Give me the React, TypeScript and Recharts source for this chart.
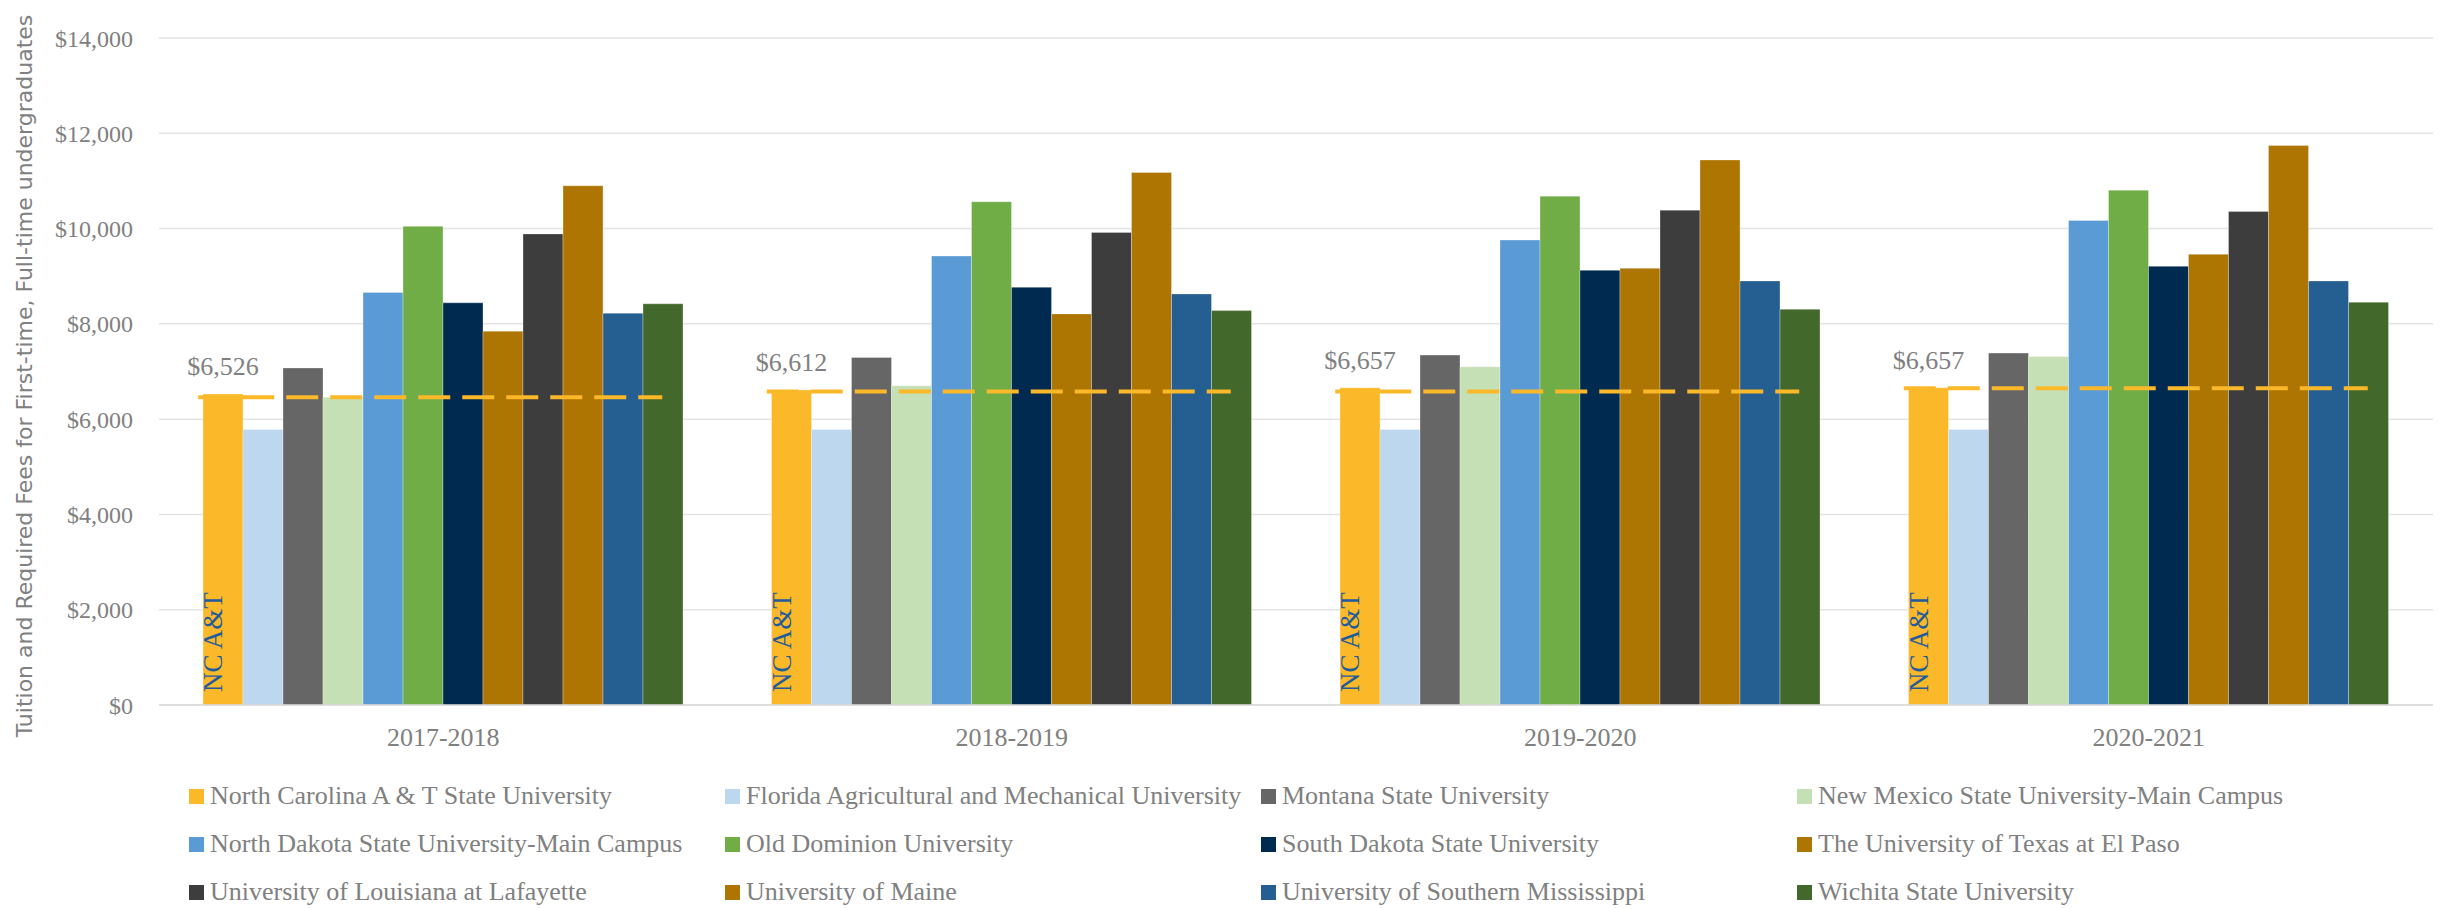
import { BarChart, Bar, XAxis, YAxis, CartesianGrid, Legend, LabelList } from 'recharts';

const SERIF = '"Liberation Serif", "Times New Roman", serif';
const SANS = '"DejaVu Sans", "Open Sans", sans-serif';
const GRAY = '#808080';

const YEARS = ['2017-2018', '2018-2019', '2019-2020', '2020-2021'];

const SCHOOLS = [
  'North Carolina A & T State University',
  'Florida Agricultural and Mechanical University',
  'Montana State University',
  'New Mexico State University-Main Campus',
  'North Dakota State University-Main Campus',
  'Old Dominion University',
  'South Dakota State University',
  'The University of Texas at El Paso',
  'University of Louisiana at Lafayette',
  'University of Maine',
  'University of Southern Mississippi',
  'Wichita State University',
];

const COLORS = [
  '#FBB829',
  '#BDD7EE',
  '#666666',
  '#C5E0B4',
  '#5B9BD5',
  '#70AD47',
  '#002A4F',
  '#AD7502',
  '#3D3D3D',
  '#AE7503',
  '#255E91',
  '#43682B',
];

// tuition + fees per school, one value per academic year
const NCAT = [6526, 6612, 6657, 6657];
const FAMU = [5785, 5785, 5785, 5785];
const MONTANA = [7074, 7295, 7344, 7386];
const NMSU = [6460, 6702, 7099, 7316];
const NDSU = [8660, 9424, 9759, 10171];
const ODU = [10047, 10562, 10681, 10806];
const SDSU = [8442, 8768, 9124, 9208];
const UTEP = [7847, 8209, 9166, 9459];
const ULL = [9888, 9920, 10387, 10359];
const MAINE = [10899, 11176, 11441, 11742];
const USM = [8224, 8628, 8901, 8901];
const WICHITA = [8422, 8279, 8307, 8454];

// dashed NC A&T reference line
const NCAT_LINE = [6460, 6582, 6582, 6646];

const Y_TICKS = [0, 2000, 4000, 6000, 8000, 10000, 12000, 14000];

const SERIES_VALUES = [NCAT, FAMU, MONTANA, NMSU, NDSU, ODU, SDSU, UTEP, ULL, MAINE, USM, WICHITA];

const data = YEARS.map((year, i) => {
  const row: Record<string, string | number> = { year, line: NCAT_LINE[i] };
  SERIES_VALUES.forEach((values, s) => {
    row[`s${s}`] = values[i];
  });
  return row;
});

const money = (v: number) => `$${Number(v).toLocaleString('en-US')}`;

function box(props: any) {
  const vb = props.viewBox ?? props;
  return {
    x: Number(vb.x),
    y: Number(vb.y),
    width: Number(vb.width),
    height: Number(vb.height),
  };
}

function ValueLabel(props: any) {
  const { x, y, width } = box(props);
  return (
    <text x={x + width / 2} y={y - 19} textAnchor="middle" fill={GRAY} fontSize={26} fontFamily={SERIF}>
      {money(props.value)}
    </text>
  );
}

function NameLabel(props: any) {
  const { x, y, height } = box(props);
  return (
    <text
      transform={`translate(${x + 19}, ${y + height - 13}) rotate(-90)`}
      fill="#1F5C99"
      fontSize={27}
      fontFamily={SERIF}
    >
      NC A&amp;T
    </text>
  );
}

function DashShape(props: any) {
  const { x, y, width } = props;
  if (x == null || y == null) return null;
  return (
    <line
      x1={x - 12.75}
      x2={x + width - 12.75}
      y1={y}
      y2={y}
      stroke="#FBB829"
      strokeWidth={4}
      strokeDasharray="32 12"
    />
  );
}

function YTitle() {
  return (
    <text
      transform="translate(24, 368) rotate(-90)"
      textAnchor="middle"
      fill={GRAY}
      fontSize={22}
      fontFamily={SANS}
    >
      Tuition and Required Fees for First-time, Full-time undergraduates
    </text>
  );
}

function LegendGrid() {
  return (
    <div
      style={{
        display: 'grid',
        gridTemplateColumns: 'repeat(4, 536px)',
        paddingLeft: 181,
        paddingTop: 34,
        rowGap: 24,
        fontFamily: SERIF,
        fontSize: 26,
        color: GRAY,
      }}
    >
      {SCHOOLS.map((name, i) => (
        <div key={name} style={{ display: 'flex', alignItems: 'center', height: 24, whiteSpace: 'nowrap' }}>
          <span style={{ width: 15, height: 15, background: COLORS[i], marginRight: 6, flexShrink: 0 }} />
          <span style={{ lineHeight: '24px' }}>{name}</span>
        </div>
      ))}
    </div>
  );
}

export default function App() {
  return (
    <div style={{ position: 'absolute', left: 8, top: 8, width: 2430, height: 900 }}>
      <BarChart
        width={2430}
        height={900}
        data={data}
        margin={{ top: 30, right: 5, bottom: 0, left: 0 }}
        barGap={0}
        barCategoryGap={44}
      >
        <CartesianGrid vertical={false} stroke="#e3e3e3" strokeWidth={1.5} />
        <XAxis
          dataKey="year"
          height={45}
          tickLine={false}
          tickSize={0}
          tickMargin={23}
          axisLine={{ stroke: '#d9d9d9', strokeWidth: 1.5 }}
          tick={{ fill: GRAY, fontSize: 26, fontFamily: SERIF }}
        />
        <XAxis xAxisId="ref" dataKey="year" hide />
        <YAxis
          domain={[0, 14000]}
          ticks={Y_TICKS}
          tickFormatter={money}
          width={151}
          axisLine={false}
          tickLine={false}
          tickSize={0}
          tickMargin={26}
          tick={{ fill: GRAY, fontSize: 24, fontFamily: SERIF }}
          label={<YTitle />}
        />
        <Legend
          verticalAlign="bottom"
          height={158}
          content={<LegendGrid />}
          wrapperStyle={{ left: 0, width: 2430 }}
        />
        {SCHOOLS.map((name, s) => (
          <Bar
            key={name}
            dataKey={`s${s}`}
            name={name}
            fill={COLORS[s]}
            stroke="#ffffff"
            strokeOpacity={0.3}
            isAnimationActive={false}
          >
            {s === 0 && <LabelList dataKey="s0" content={<ValueLabel />} />}
            {s === 0 && <LabelList dataKey="s0" content={<NameLabel />} />}
          </Bar>
        ))}
        <Bar
          xAxisId="ref"
          dataKey="line"
          barSize={464}
          shape={<DashShape />}
          legendType="none"
          isAnimationActive={false}
        />
      </BarChart>
    </div>
  );
}
